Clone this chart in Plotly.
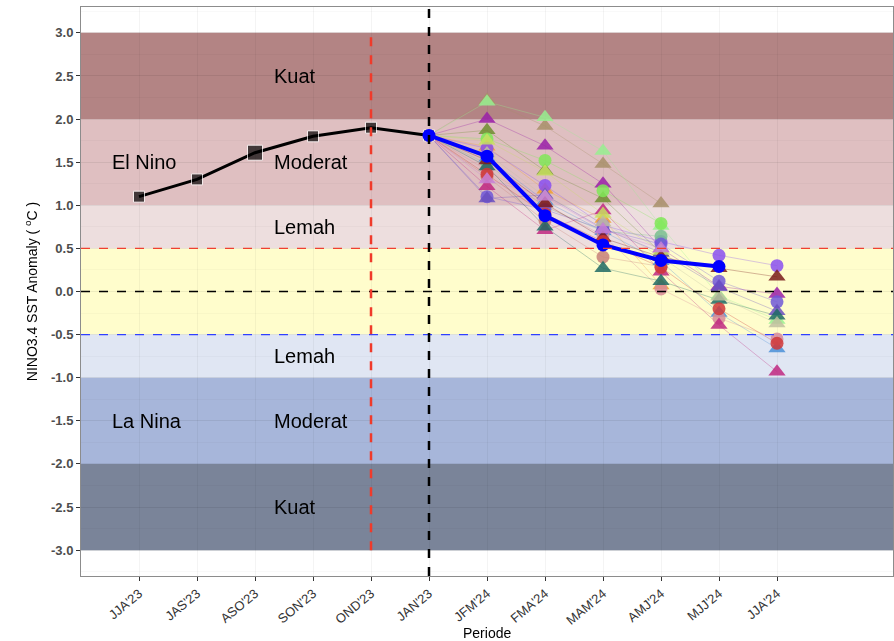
import plotly.graph_objects as go

# ---------------- data ----------------
periods = ["JJA'23", "JAS'23", "ASO'23", "SON'23", "OND'23", "JAN'23",
           "JFM'24", "FMA'24", "MAM'24", "AMJ'24", "MJJ'24", "JJA'24"]
obs_periods = ["JJA'23", "JAS'23", "ASO'23", "SON'23", "OND'23", "JAN'23"]
obs_values = [1.10, 1.30, 1.61, 1.80, 1.90, 1.81]

fc_periods = ["JFM'24", "FMA'24", "MAM'24", "AMJ'24", "MJJ'24", "JJA'24"]
mean_periods = ["JAN'23", "JFM'24", "FMA'24", "MAM'24", "AMJ'24", "MJJ'24"]
mean_values = [1.81, 1.57, 0.88, 0.54, 0.36, 0.29]

model_names = ["M01", "M02", "M03", "M04", "M05", "M06", "M07", "M08", "M09", "M10",
               "M11", "M12", "M13", "M14", "M15", "M16", "M17", "M18", "M19", "M20"]
model_symbols = ["triangle-up", "triangle-up", "triangle-up", "triangle-up", "circle",
                 "triangle-up", "circle", "triangle-up", "circle", "circle",
                 "circle", "triangle-up", "circle", "triangle-up", "triangle-up",
                 "triangle-up", "triangle-up", "triangle-up", "circle", "triangle-up"]
model_colors = ["#a8906a", "#98f090", "#9a1fa8", "#6f8e30", "#80e858",
                "#f0a030", "#8a4ff0", "#4a90d8", "#78c090", "#d88a98",
                "#c88078", "#c02880", "#7058d8", "#6a50c0", "#1e6a64",
                "#c8e060", "#c0c0a0", "#7a1a1a", "#d03838", "#c880d8"]
model_values = [
    [2.22, 1.92, 1.48, 1.02, None, None],
    [2.20, 2.02, 1.63, 0.76, -0.05, -0.33],
    [2.00, 1.69, 1.25, 0.50, 0.06, -0.03],
    [1.87, 1.40, 1.08, 0.45, None, None],
    [1.77, 1.52, 1.17, 0.79, None, None],
    [1.68, 1.18, 0.84, 0.07, None, None],
    [1.66, 1.23, 0.77, 0.58, 0.42, 0.30],
    [1.55, 1.05, 0.70, 0.35, -0.25, -0.66],
    [1.48, 0.98, 0.70, 0.64, None, None],
    [1.41, 1.00, 0.65, 0.03, -0.31, -0.55],
    [1.33, 0.82, 0.40, 0.29, None, None],
    [1.22, 0.71, 0.94, 0.23, -0.39, -0.93],
    [1.10, 0.95, 0.72, 0.55, 0.12, -0.12],
    [1.08, 1.12, 0.73, 0.45, 0.05, -0.23],
    [1.45, 0.75, 0.27, 0.12, -0.10, -0.28],
    [1.75, 1.39, 0.90, 0.47, None, None],
    [1.60, 1.10, 0.80, 0.40, -0.06, -0.37],
    [1.52, 1.02, 0.62, 0.40, 0.27, 0.17],
    [1.36, 0.90, 0.58, 0.28, -0.20, -0.60],
    [1.30, 1.10, 0.72, 0.50, None, None],
]

band_bounds = [(2, 3), (1, 2), (0.5, 1), (-0.5, 0.5), (-1, -0.5), (-2, -1), (-3, -2)]
band_colors = ["#b38484", "#dfbfc1", "#eddede", "#fffdcc", "#e0e6f3", "#a7b6da", "#7a8499"]
band_labels = [("Kuat", 2.5), ("Moderat", 1.5), ("Lemah", 0.75),
               ("Lemah", -0.75), ("Moderat", -1.5), ("Kuat", -2.5)]
phase_labels = [("El Nino", 1.5), ("La Nina", -1.5)]
y_ticks = [-3.0, -2.5, -2.0, -1.5, -1.0, -0.5, 0.0, 0.5, 1.0, 1.5, 2.0, 2.5, 3.0]

# ---------------- figure ----------------
pos = {p: i + 1 for i, p in enumerate(periods)}
FONT = "Liberation Sans, Arial, sans-serif"

fig = go.Figure()
shapes = []
for (lo, hi), col in zip(band_bounds, band_colors):
    shapes.append(dict(type="rect", xref="x", yref="y", x0=0, x1=14, y0=lo, y1=hi,
                       fillcolor=col, line=dict(width=0), layer="below"))
for yv, col in [(0.5, "#f04030"), (0.0, "#000000"), (-0.5, "#3040ff")]:
    shapes.append(dict(type="line", xref="x", yref="y", x0=0, x1=14, y0=yv, y1=yv,
                       line=dict(color=col, width=1.3, dash="dash"), layer="above"))
shapes.append(dict(type="line", xref="x", yref="y", x0=pos["OND'23"], x1=pos["OND'23"],
                   y0=-3, y1=3, line=dict(color="#f03a2a", width=2.5, dash="dash"), layer="above"))
shapes.append(dict(type="line", xref="x", yref="paper", x0=pos["JAN'23"], x1=pos["JAN'23"],
                   y0=0, y1=1, line=dict(color="#000000", width=2.5, dash="dash"), layer="above"))

# model lines
start_x = pos[obs_periods[-1]]
start_y = obs_values[-1]
for name, col, vals in zip(model_names, model_colors, model_values):
    xs = [start_x] + [pos[p] for p, v in zip(fc_periods, vals) if v is not None]
    ys = [start_y] + [v for v in vals if v is not None]
    fig.add_trace(go.Scatter(x=xs, y=ys, mode="lines", line=dict(color=col, width=0.7),
                             opacity=0.45, showlegend=False, hoverinfo="skip"))

# observed line
fig.add_trace(go.Scatter(x=[pos[p] for p in obs_periods], y=obs_values, mode="lines+markers",
                         line=dict(color="black", width=3),
                         marker=dict(symbol="square", size=[11, 11, 15, 11, 11, 11], color="black"),
                         showlegend=False, name="Observasi"))

# model markers
for name, sym, col, vals in zip(model_names, model_symbols, model_colors, model_values):
    xs = [pos[p] for p, v in zip(fc_periods, vals) if v is not None]
    ys = [v for v in vals if v is not None]
    fig.add_trace(go.Scatter(x=xs, y=ys, mode="markers",
                             marker=dict(symbol=sym, size=15 if sym != "circle" else 13,
                                         color=col, line=dict(width=0)),
                             opacity=0.85, showlegend=False, name=name))

# ensemble mean
fig.add_trace(go.Scatter(x=[pos[p] for p in mean_periods], y=mean_values, mode="lines+markers",
                         line=dict(color="#0000ff", width=4),
                         marker=dict(symbol="circle", size=13, color="#0000ff"),
                         showlegend=False, name="Rata-rata"))

annotations = []
for txt, yv in band_labels:
    annotations.append(dict(x=3.3, y=yv, xref="x", yref="y", text=txt, showarrow=False,
                            xanchor="left", yanchor="middle",
                            font=dict(family=FONT, size=20, color="black")))
for txt, yv in phase_labels:
    annotations.append(dict(x=0.5, y=yv, xref="x", yref="y", text=txt, showarrow=False,
                            xanchor="left", yanchor="middle",
                            font=dict(family=FONT, size=20, color="black")))
annotations.append(dict(x=0.5, y=0, xref="paper", yref="paper", yshift=-57,
                        text="Periode", showarrow=False, xanchor="center", yanchor="middle",
                        font=dict(family=FONT, size=14, color="black")))

fig.update_layout(
    width=894, height=641,
    margin=dict(l=81, r=1, t=7, b=65, autoexpand=False),
    paper_bgcolor="white", plot_bgcolor="white",
    shapes=shapes, annotations=annotations,
    font=dict(family=FONT),
    xaxis=dict(range=[0, 14], tickmode="array", tickvals=[pos[p] for p in periods],
               ticktext=periods, tickangle=-40, automargin=False,
               tickfont=dict(family=FONT, size=13, color="#333333"),
               showgrid=True, gridcolor="rgba(0,0,0,0.045)", gridwidth=1,
               ticks="outside", ticklen=4, tickcolor="#333333",
               showline=True, linecolor="#8c8c8c", mirror=True, zeroline=False),
    yaxis=dict(range=[-3.3, 3.3], tickmode="array", tickvals=y_ticks,
               ticktext=[f"{v:.1f}" for v in y_ticks], automargin=False,
               tickfont=dict(family=FONT, size=13, color="#4d4d4d", weight="bold"),
               showgrid=True, gridcolor="rgba(0,0,0,0.045)", gridwidth=1,
               minor=dict(dtick=0.25, tick0=0, showgrid=True, gridcolor="rgba(0,0,0,0.025)"),
               ticks="outside", ticklen=4, tickcolor="#333333",
               showline=True, linecolor="#8c8c8c", mirror=True, zeroline=False,
               title=dict(text="NINO3.4 SST Anomaly ( <sup>o</sup>C )",
                          font=dict(family=FONT, size=14, color="black"), standoff=10)),
)

fig.write_html("out.html", config={"displayModeBar": False},
               post_script="document.body.style.margin='0';")
